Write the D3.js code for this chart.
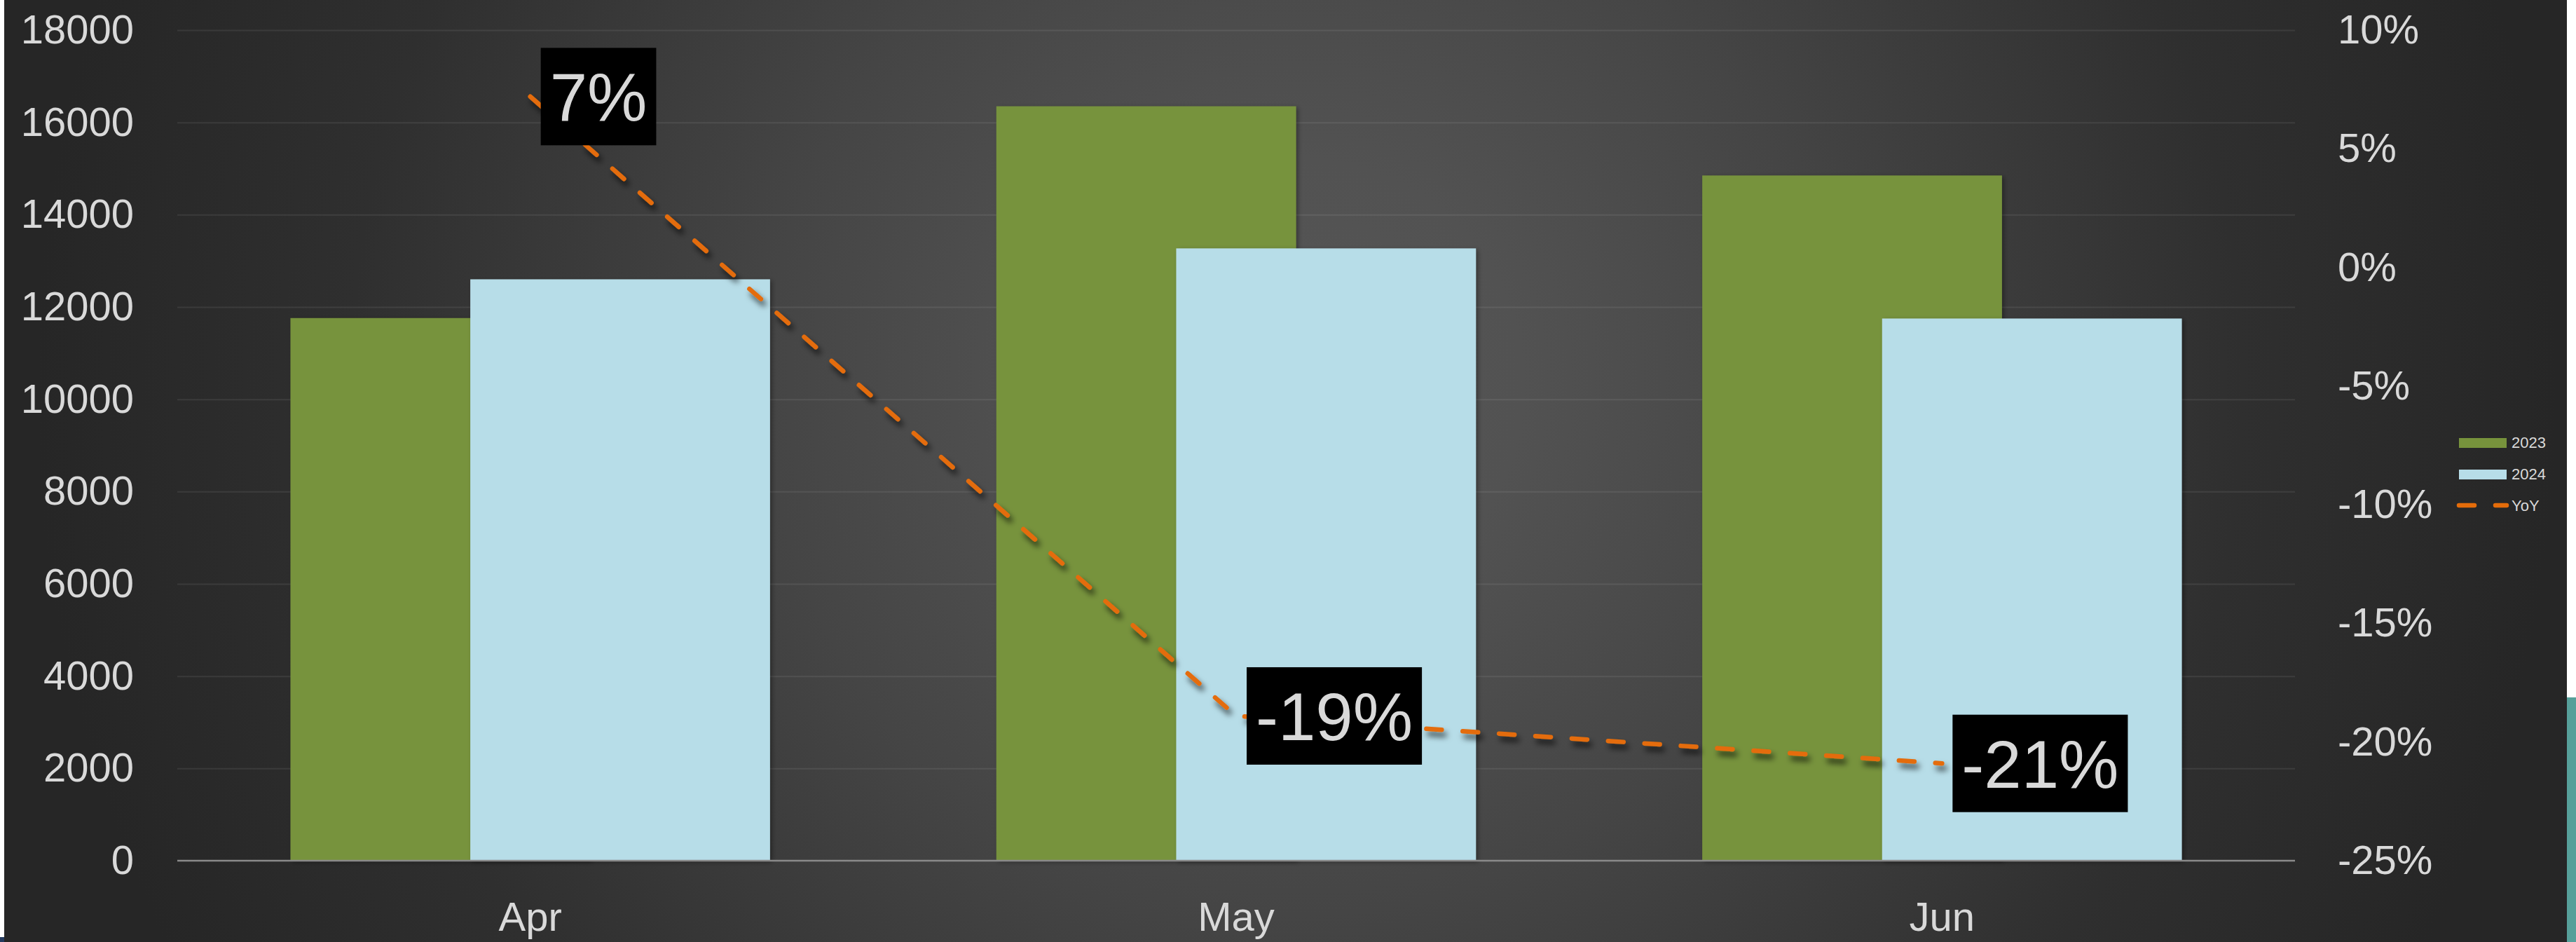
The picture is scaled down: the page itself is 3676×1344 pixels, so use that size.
<!DOCTYPE html>
<html>
<head>
<meta charset="utf-8">
<script src="https://cdn.jsdelivr.net/npm/d3@7"></script>
<style>
  html, body { margin: 0; padding: 0; background: #ffffff; }
  svg { display: block; }
</style>
</head>
<body>
<div id="chart"></div>
<script>
// values
const months = ["Apr", "May", "Jun"];
const seriesNames = ["2023", "2024"];
const sales2023 = [11760, 16350, 14850];
const sales2024 = [12600, 13270, 11750];
const yoy = [0.072, -0.189, -0.209];
const yoyLabels = ["7%", "-19%", "-21%"];
const leftTicks = [0, 2000, 4000, 6000, 8000, 10000, 12000, 14000, 16000, 18000];
const rightTicks = [-0.25, -0.20, -0.15, -0.10, -0.05, 0, 0.05, 0.10];
const seriesColors = ["#77933c", "#b7dde8"];
const lineColor = "#e46c0a";

let W = 3676, H = 1344;
let plot = {left: 253, right: 3275, top: 43, bottom: 1228};
let font = "'Liberation Sans', Arial, sans-serif";
let textColor = "#d9d9d9";

let svg = d3.select("#chart").append("svg")
    .attr("width", W)
    .attr("height", H)
    .style("font-family", font);

let defs = svg.append("defs");

// background: dark radial gradient, lighter in the middle
let grad = defs.append("radialGradient")
    .attr("id", "bg")
    .attr("gradientUnits", "userSpaceOnUse")
    .attr("cx", 1850).attr("cy", 550).attr("r", 1800);
[[0, "#565656"], [0.18, "#525252"], [0.42, "#454545"], [0.75, "#2f2f2f"], [1, "#262626"]]
    .forEach(s => grad.append("stop").attr("offset", s[0]).attr("stop-color", s[1]));

defs.append("filter").attr("id", "lineShadow")
    .attr("x", "-10%").attr("y", "-10%").attr("width", "120%").attr("height", "130%")
  .append("feDropShadow")
    .attr("dx", 4).attr("dy", 7).attr("stdDeviation", 4)
    .attr("flood-color", "#000").attr("flood-opacity", 0.7);

defs.append("filter").attr("id", "barShadow")
    .attr("x", "-10%").attr("y", "-10%").attr("width", "120%").attr("height", "120%")
  .append("feDropShadow")
    .attr("dx", 3).attr("dy", 2).attr("stdDeviation", 3)
    .attr("flood-color", "#000").attr("flood-opacity", 0.35);

svg.append("rect")
    .attr("x", 6).attr("y", 0)
    .attr("width", 3663 - 6).attr("height", H)
    .attr("fill", "url(#bg)");

// slide decorations at the edges
svg.append("rect").attr("x", 3663).attr("y", 995).attr("width", W - 3663).attr("height", H - 995).attr("fill", "#56a09a");
svg.append("rect").attr("x", 0).attr("y", 1337).attr("width", 6).attr("height", H - 1337).attr("fill", "#243a5e");

// scales
let x = d3.scaleBand().domain(months).range([plot.left, plot.right]).padding(0);
let yL = d3.scaleLinear().domain([0, 18000]).range([plot.bottom, plot.top]);
let yR = d3.scaleLinear().domain([-0.25, 0.10]).range([plot.bottom, plot.top]);

// excel style: overlap 40%, gap width 75.5%
let overlap = 0.4, gapWidth = 0.755;
let barW = x.bandwidth() / (2 - overlap + gapWidth);
let step = barW * (1 - overlap);
let groupW = barW + step;
let cx = m => x(m) + x.bandwidth() / 2;

// gridlines
svg.append("g")
    .attr("transform", `translate(${plot.left},0)`)
    .call(d3.axisLeft(yL).tickValues(leftTicks.filter(d => d > 0))
        .tickSize(-(plot.right - plot.left)).tickFormat(""))
    .call(g => g.select(".domain").remove())
    .call(g => g.selectAll("line").attr("stroke", "rgba(255,255,255,0.08)").attr("stroke-width", 2));

// left axis labels
svg.append("g")
    .attr("transform", `translate(${plot.left},0)`)
    .call(d3.axisLeft(yL).tickValues(leftTicks).tickSize(0).tickPadding(62)
        .tickFormat(d3.format("d")))
    .call(g => g.select(".domain").remove())
    .call(g => g.selectAll("text")
        .attr("fill", textColor).style("font-size", "58px").style("font-family", font));

// right axis labels
svg.append("g")
    .attr("transform", `translate(${plot.right},0)`)
    .call(d3.axisRight(yR).tickValues(rightTicks).tickSize(0).tickPadding(61)
        .tickFormat(d => Math.round(d * 100) + "%"))
    .call(g => g.select(".domain").remove())
    .call(g => g.selectAll("text")
        .attr("fill", textColor).style("font-size", "58px").style("font-family", font));

// bars
let barData = [];
months.forEach((m, i) => {
    barData.push({month: m, s: 0, value: sales2023[i]});
    barData.push({month: m, s: 1, value: sales2024[i]});
});

svg.append("g")
    .selectAll("rect")
    .data(barData)
    .join("rect")
        .attr("x", d => cx(d.month) - groupW / 2 + d.s * step)
        .attr("y", d => yL(d.value))
        .attr("width", barW)
        .attr("height", d => yL(0) - yL(d.value))
        .attr("fill", d => seriesColors[d.s])
        .attr("filter", "url(#barShadow)");

// baseline
svg.append("line")
    .attr("x1", plot.left).attr("x2", plot.right)
    .attr("y1", yL(0)).attr("y2", yL(0))
    .attr("stroke", "#8a8a8a").attr("stroke-width", 2.5);

// category labels
svg.append("g")
    .attr("transform", `translate(0,${plot.bottom})`)
    .call(d3.axisBottom(x).tickSize(0).tickPadding(59))
    .call(g => g.select(".domain").remove())
    .call(g => g.selectAll("text")
        .attr("fill", textColor).style("font-size", "58px").style("font-family", font));

// YoY line
let line = d3.line()
    .x((d, i) => cx(months[i]))
    .y(d => yR(d));

svg.append("path")
    .datum(yoy)
    .attr("d", line)
    .attr("fill", "none")
    .attr("stroke", lineColor)
    .attr("stroke-width", 6.5)
    .attr("stroke-dasharray", "22,30")
    .attr("stroke-linecap", "round")
    .attr("stroke-linejoin", "round")
    .attr("filter", "url(#lineShadow)");

// data labels: black boxes to the right of each point
let labels = svg.append("g")
    .selectAll("g")
    .data(yoy)
    .join("g")
        .attr("transform", (d, i) => `translate(${cx(months[i]) + 15},${yR(d)})`);

labels.append("rect")
    .attr("fill", "#000")
    .attr("y", -69.5)
    .attr("height", 139);

labels.append("text")
    .attr("x", 13)
    .attr("dy", "0.36em")
    .attr("fill", textColor)
    .style("font-size", "96px")
    .text((d, i) => yoyLabels[i]);

labels.each(function() {
    let g = d3.select(this);
    let w = g.select("text").node().getComputedTextLength();
    g.select("rect").attr("width", w + 26);
});

// legend
let legend = svg.append("g").attr("transform", "translate(3509,632)");
let legendItems = seriesNames.concat(["YoY"]);

let li = legend.selectAll("g")
    .data(legendItems)
    .join("g")
        .attr("transform", (d, i) => `translate(0,${i * 45})`);

li.filter((d, i) => i < 2).append("rect")
    .attr("y", -7)
    .attr("width", 68)
    .attr("height", 14)
    .attr("fill", (d, i) => seriesColors[i]);

li.filter((d, i) => i === 2).append("line")
    .attr("x1", 0).attr("x2", 68)
    .attr("y1", -1).attr("y2", -1)
    .attr("stroke", lineColor)
    .attr("stroke-width", 6.5)
    .attr("stroke-dasharray", "22,30")
    .attr("stroke-linecap", "round");

li.append("text")
    .attr("x", 75)
    .attr("dy", "0.33em")
    .attr("fill", textColor)
    .style("font-size", "22px")
    .text(d => d);
</script>
</body>
</html>
